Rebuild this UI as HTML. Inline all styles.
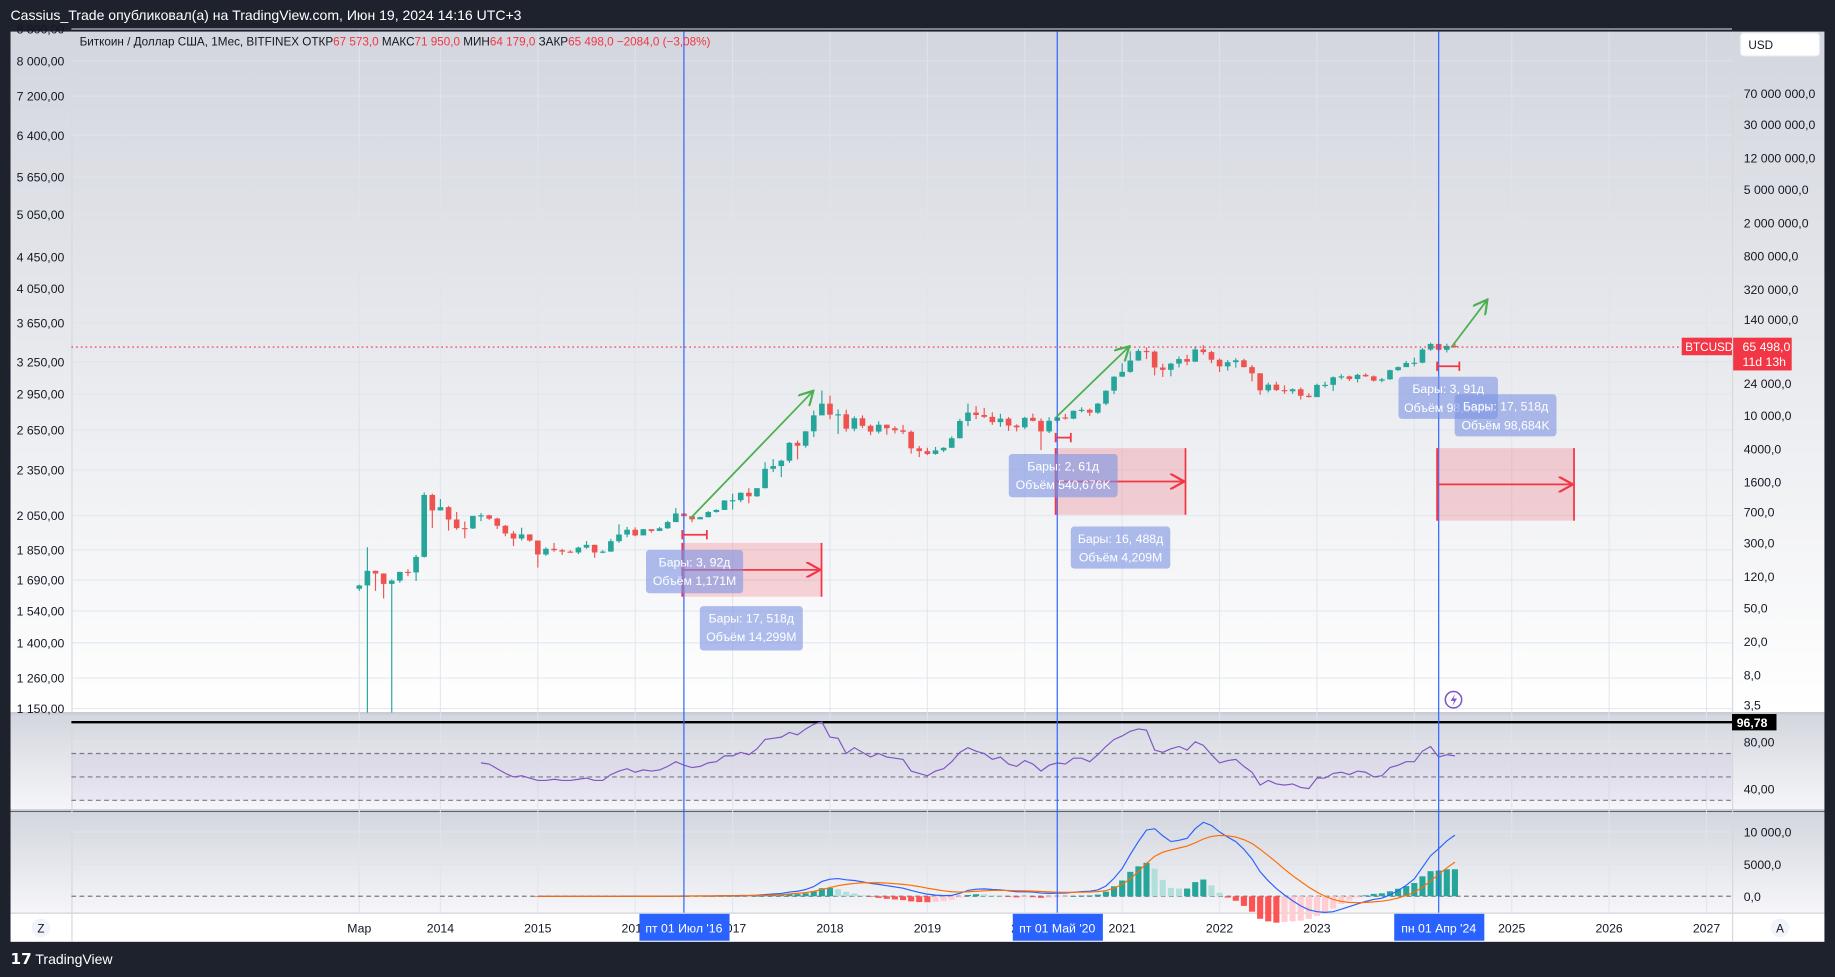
<!DOCTYPE html>
<html><head><meta charset="utf-8">
<style>
html,body{margin:0;padding:0;background:#1e222d;overflow:hidden;}
svg{display:block;font-family:"Liberation Sans","DejaVu Sans",sans-serif;}
</style></head>
<body>
<svg id="chart" width="1835" height="977" viewBox="0 0 1568 835" preserveAspectRatio="none" xmlns="http://www.w3.org/2000/svg">
<defs>
<linearGradient id="gMain" x1="0" y1="0" x2="0" y2="1"><stop offset="0" stop-color="#d3d6de"/><stop offset="1" stop-color="#ffffff"/></linearGradient>
<linearGradient id="gSub" x1="0" y1="0" x2="0" y2="1"><stop offset="0" stop-color="#d3d6de"/><stop offset="1" stop-color="#f6f6f9"/></linearGradient>
<marker id="ga" viewBox="0 0 10 10" refX="9" refY="5" markerWidth="9" markerHeight="9" orient="auto"><path d="M0,0 L9,5 L0,10" fill="none" stroke="#4caf50" stroke-width="1.4"/></marker>
<marker id="ra" viewBox="0 0 10 10" refX="9" refY="5" markerWidth="9" markerHeight="9" orient="auto"><path d="M0,0 L9,5 L0,10" fill="none" stroke="#f23645" stroke-width="1.4"/></marker>
</defs>
<rect x="0" y="0" width="1568" height="27" fill="#1e222d"/>
<text x="9" y="17" fill="#ffffff" font-size="12">Cassius_Trade опубликовал(а) на TradingView.com, Июн 19, 2024 14:16 UTC+3</text>
<rect x="9" y="27" width="1550" height="582" fill="url(#gMain)"/>
<rect x="9" y="610" width="1550" height="82" fill="url(#gSub)"/>
<rect x="9" y="694" width="1550" height="86" fill="url(#gSub)"/>
<rect x="9" y="780" width="1550" height="25" fill="#ffffff"/>
<line x1="9" y1="780.5" x2="1559" y2="780.5" stroke="#d6d8de"/>
<line x1="61.5" y1="27" x2="61.5" y2="805" stroke="#d6d8de"/>
<line x1="1480.5" y1="27" x2="1480.5" y2="805" stroke="#d6d8de"/>
<line x1="9" y1="609.5" x2="1559" y2="609.5" stroke="#c9ccd4" stroke-width="2"/>
<line x1="9" y1="692.5" x2="1559" y2="692.5" stroke="#c9ccd4" stroke-width="2"/>
<rect x="0" y="805" width="1568" height="30" fill="#1e222d"/>
<text x="9" y="824" fill="#ffffff" font-size="12"><tspan font-weight="bold" font-size="13">𝟭𝟳</tspan> TradingView</text>
<g id="grid"></g>
<g id="leftAxis"></g>
<g id="rightAxis"></g>
<g id="rsiG"></g>
<g id="macdG"></g>
<g id="candles"></g>
<g id="annot"></g>
<g id="timeAxis"></g>
<text x="68" y="39" font-size="10" fill="#131722">Биткоин / Доллар США, 1Мес, BITFINEX  ОТКР<tspan fill="#f23645">67 573,0</tspan>  МАКС<tspan fill="#f23645">71 950,0</tspan>  МИН<tspan fill="#f23645">64 179,0</tspan>  ЗАКР<tspan fill="#f23645">65 498,0  −2084,0 (−3,08%)</tspan></text>
<g><rect x="1487" y="28" width="68" height="20" rx="3" fill="#ffffff" stroke="#e0e3eb"/><text x="1494" y="42" font-size="10" fill="#131722">USD</text></g>
<rect x="1559" y="27" width="9" height="778" fill="#1e222d"/>
</svg>
<script>
const NS='http://www.w3.org/2000/svg';
function mk(tag,attrs,parent,txt){const e=document.createElementNS(NS,tag);for(const k in attrs)e.setAttribute(k,attrs[k]);if(txt!==undefined)e.textContent=txt;parent.appendChild(e);return e;}
const G=id=>document.getElementById(id);

// ---------- DATA ----------
const startMonth='2013-03';
const closes=[93,139,129,97,106,135,133,204,1120,732,
800,570,450,445,630,640,585,480,388,338,378,320,
218,255,245,236,230,263,284,230,236,314,377,430,
368,437,416,448,531,673,624,573,608,700,742,963,
970,1190,1080,1350,2300,2480,2875,4700,4340,6450,10000,13800,
10200,10300,6930,9240,7500,6400,7730,7020,6630,6370,4040,3740,
3460,3820,4100,5330,8570,10800,10100,9600,8300,9150,7560,7200,
9350,8600,6430,8620,9450,9140,11350,11650,10780,13800,19700,28990,
33100,45200,58800,57700,37300,35000,41500,47100,43800,61300,57000,46200,
38500,43200,45500,37700,31800,19900,23300,20050,19400,20500,17150,16550,
23100,23150,28500,29250,27200,30500,29250,26000,26950,34650,37700,42300,
42600,61200,71300,60700,67573,65498];
const firstOpen=85;
const highs=[95,266,140,130,110,135,145,215,1200,1160,
1000,830,700,540,630,680,650,600,490,415,455,380,
320,265,300,255,245,270,315,285,245,335,500,465,
460,440,425,465,550,780,680,620,615,720,755,970,
1160,1200,1350,1350,2760,3000,2950,4800,5000,6460,11400,19800,
17200,11800,11700,9740,10000,7770,8500,7760,7400,7700,6600,4300,
4100,4200,4160,5600,9100,13800,12900,12300,10900,10450,9550,7800,
9600,10500,9200,9500,10100,10430,11450,12480,12080,14120,19900,29300,
41950,58350,61800,64850,59500,41300,42400,50500,52900,67000,69000,59100,
47900,45800,48200,47400,40000,31900,24600,25200,22800,21000,21500,18400,
23900,25250,29200,31000,29800,31400,31800,30000,28000,35200,38400,44700,
48950,63900,73800,72800,71950,71950];
const lows=[80,2,80,65,2,100,120,105,200,450,
740,420,430,340,440,545,565,440,360,275,320,310,
152,210,235,215,228,220,255,199,225,234,300,350,
360,368,396,415,440,530,465,530,590,605,690,740,
750,920,890,1060,1340,2100,1830,2700,2970,4120,5500,10400,
9000,6000,6400,6450,7040,5800,6080,5870,6080,6000,3500,3180,
3350,3390,3640,4080,5300,7450,9000,9300,7700,7300,6520,6430,
6850,8500,3850,6150,8100,8900,9000,10850,9850,10400,13200,18000,
28800,32300,45000,47000,30000,28800,29300,37300,39600,43300,53300,42000,
32900,34300,37200,37400,25400,17600,18800,19550,18100,18100,15450,16300,
16500,21400,19600,26900,25800,24800,28800,25300,24900,26600,34000,40250,
38500,41900,59000,56500,56500,64179];
const rsiStart=15; // month index (Jun 2014)
const rsiValues=[62,61,57,53,50,51,49,
47,47,48,47,47,48,49,47,47,52,55,57,
54,56,55,56,59,63,60,58,59,62,63,68,
68,71,69,74,82,83,84,88,86,91,95,97,
84,83,70,75,71,67,70,67,66,65,55,53,
51,55,57,63,71,75,72,70,65,67,61,59,
64,61,55,60,62,61,66,66,63,69,76,82,
85,89,91,90,73,71,74,76,73,80,77,69,
62,64,65,59,54,43,47,44,43,44,41,40,
49,49,53,54,52,55,54,50,51,58,60,63,
63,72,76,67,69,68];
const macdStart=22; // Jan 2015
const macdValues=[-5,-8,-10,-12,-13,-13,-12,-12,-11,-8,-3,3,
5,9,12,16,22,35,42,45,48,55,62,80,
95,120,130,160,260,350,440,650,780,1050,1500,2300,
2650,2750,2550,2450,2250,2000,1850,1650,1450,1250,900,600,
330,180,100,140,450,900,1100,1150,1050,1000,850,700,
700,650,500,450,480,500,620,730,790,980,1600,2800,
4300,6500,8500,10300,10500,9400,8500,8700,9000,10500,11500,11000,
10000,9200,8500,7300,5800,3800,2400,1200,200,-700,-1500,-2100,
-2400,-2500,-2400,-2000,-1600,-1200,-800,-500,-300,200,900,1700,
2700,4500,6300,7400,8600,9500];
const signalValues=[-3,-5,-6,-8,-9,-10,-11,-11,-11,-10,-8,-5,
-2,1,4,7,11,18,25,32,38,44,51,60,
72,86,100,117,150,200,260,350,450,580,760,1050,
1350,1650,1850,2000,2100,2100,2100,2050,1950,1850,1700,1500,
1250,1050,850,700,650,700,780,850,900,920,910,870,
840,800,740,680,640,610,610,630,660,720,880,1250,
1850,2700,3850,5100,6200,6850,7200,7500,7800,8300,8900,9300,
9450,9400,9200,8800,8200,7300,6300,5300,4200,3200,2300,1400,
650,0,-500,-800,-950,-1000,-950,-870,-760,-570,-270,120,
640,1400,2400,3400,4400,5300];
const rightTicks=[70000000,30000000,12000000,5000000,2000000,800000,320000,140000,24000,10000,4000,1600,700,300,120,50,20,8,3.5];
const rightTickLabels=['70 000 000,0','30 000 000,0','12 000 000,0','5 000 000,0','2 000 000,0','800 000,0','320 000,0','140 000,0','24 000,0','10 000,0','4000,0','1600,0','700,0','300,0','120,0','50,0','20,0','8,0','3,5'];
const leftTicks=[8800,8000,7200,6400,5650,5050,4450,4050,3650,3250,2950,2650,2350,2050,1850,1690,1540,1400,1260,1150];
const leftTickLabels=['8 800,00','8 000,00','7 200,00','6 400,00','5 650,00','5 050,00','4 450,00','4 050,00','3 650,00','3 250,00','2 950,00','2 650,00','2 350,00','2 050,00','1 850,00','1 690,00','1 540,00','1 400,00','1 260,00','1 150,00'];
const yearLabels=['2014','2015','2016','2017','2018','2019','2020','2021','2022','2023','2024','2025','2026','2027'];
const yearMonthIdx=[10,22,34,46,58,70,82,94,106,118,130,142,154,166];
const rsiTicks=[80,40];
const macdTicks=[10000,5000,0];
const macdTickLabels=['10 000,0','5000,0','0,0'];
const lastPrice=65498;

// ---------- SCALES ----------
const xM=i=>307+i*6.935;
const yP=p=>355-31.07*Math.log(p/10000);
const yL=p=>52+285.4*Math.log(8000/p);
const yR=v=>714-v;
const yMd=v=>766-v*0.0055;

// grid
const grid=G('grid');
yearMonthIdx.forEach((m,i)=>{const l=mk('line',{x1:xM(m),x2:xM(m),y1:27,y2:780,stroke:'#e0e3eb','stroke-opacity':0.8},grid);

});
mk('line',{x1:xM(0),x2:xM(0),y1:27,y2:780,stroke:'#e0e3eb'},grid);
leftTicks.forEach(p=>{const l=mk('line',{x1:61,x2:1480,y1:yL(p),y2:yL(p),stroke:'#e0e3eb','stroke-opacity':0.8},grid);

});

// left axis
const la=G('leftAxis');
leftTicks.forEach((p,i)=>{const t=mk('text',{x:55,y:yL(p)+4,'text-anchor':'end','font-size':10.5,fill:'#131722'},la,leftTickLabels[i]);

});
// right axis
const ra=G('rightAxis');
rightTicks.forEach((p,i)=>{const t=mk('text',{x:1490,y:yP(p)+4,'font-size':10.5,fill:'#131722'},ra,rightTickLabels[i]);

});

// candles
const cg=G('candles');
closes.forEach((c,i)=>{const o=i===0?firstOpen:closes[i-1];const up=c>=o;const col=up?'#26a69a':'#ef5350';const x=xM(i);
const w=mk('line',{x1:x,x2:x,y1:yP(highs[i]),y2:Math.min(yP(lows[i]),609),stroke:col,'stroke-width':1},cg);


const yt=yP(Math.max(o,c)),yb=yP(Math.min(o,c));
const b=mk('rect',{x:x-2.4,y:yt,width:4.8,height:Math.max(yb-yt,1),fill:col},cg);

});

// price line
const an=G('annot');
const pl=mk('line',{x1:61,x2:1437,y1:yP(lastPrice),y2:yP(lastPrice),stroke:'#f23645','stroke-dasharray':'1.5,2.5'},an);


const py=yP(lastPrice);
mk('rect',{x:1437,y:py-8,width:43,height:15,fill:'#f23645'},an);
const bt=mk('text',{x:1440,y:py+3.5,'font-size':10,fill:'#fff'},an,'BTCUSD');


mk('rect',{x:1481,y:py-8,width:50,height:28,fill:'#f23645'},an);
const pt=mk('text',{x:1489,y:py+3.5,'font-size':10.5,fill:'#fff'},an,'65 498,0');


mk('text',{x:1489,y:py+16,'font-size':10.5,fill:'#fff'},an,'11d 13h');

// vertical cursor lines
[[40,'пт 01 Июл \'16'],[86,'пт 01 Май \'20'],[133,'пн 01 Апр \'24']].forEach(([m,lab])=>{const x=xM(m);
const l=mk('line',{x1:x,x2:x,y1:27,y2:780,stroke:'#2962ff','stroke-width':1},an);


mk('rect',{x:x-38,y:781,width:77,height:23,fill:'#2962ff'},G('timeAxis'));
const t=mk('text',{x:x,y:797,'text-anchor':'middle','font-size':10.5,fill:'#fff'},G('timeAxis'),lab);

});

// green arrows
[[590,443,695,334],[902,357,965,296],[1240,297,1271,256]].forEach(a=>{const l=mk('line',{x1:a[0],y1:a[1],x2:a[2],y2:a[3],stroke:'#4caf50','stroke-width':1.5,'marker-end':'url(#ga)'},an);

});

// date ranges (red)
[[583,464,702,510,457,604],[902,383,1013,440,374,915],[1228,383,1345,445,313,1247]].forEach(d=>{
const r=mk('rect',{x:d[0],y:d[1],width:d[2]-d[0],height:d[3]-d[1],fill:'#f23645','fill-opacity':0.2},an);


mk('line',{x1:d[0],x2:d[0],y1:d[1],y2:d[3],stroke:'#f23645','stroke-width':1.5},an);
mk('line',{x1:d[2],x2:d[2],y1:d[1],y2:d[3],stroke:'#f23645','stroke-width':1.5},an);
mk('line',{x1:d[0],x2:d[2]-1,y1:(d[1]+d[3])/2,y2:(d[1]+d[3])/2,stroke:'#f23645','stroke-width':1.5,'marker-end':'url(#ra)'},an);
mk('line',{x1:d[0],x2:d[5],y1:d[4],y2:d[4],stroke:'#f23645','stroke-width':1.5},an);
mk('line',{x1:d[5],x2:d[5],y1:d[4]-4,y2:d[4]+4,stroke:'#f23645','stroke-width':1.5},an);
mk('line',{x1:d[0],x2:d[0],y1:d[4]-4,y2:d[4]+4,stroke:'#f23645','stroke-width':1.5},an);});

// info labels
[[552,470,83,37,'Бары: 3, 92д','Объём 1,171M'],[598,518,88,38,'Бары: 17, 518д','Объём 14,299M'],[862,388,93,37,'Бары: 2, 61д','Объём 540,676K'],[915,450,85,36,'Бары: 16, 488д','Объём 4,209M'],[1195,322,85,36,'Бары: 3, 91д','Объём 98,684K'],[1243,337,87,36,'Бары: 17, 518д','Объём 98,684K']].forEach(b=>{
const r=mk('rect',{x:b[0],y:b[1],width:b[2],height:b[3],rx:3,fill:'#7b93e3','fill-opacity':0.6},an);


mk('text',{x:b[0]+b[2]/2,y:b[1]+14,'text-anchor':'middle','font-size':10.5,fill:'#fff'},an,b[4]);
mk('text',{x:b[0]+b[2]/2,y:b[1]+30,'text-anchor':'middle','font-size':10.5,fill:'#fff'},an,b[5]);});

// lightning icon
const li=mk('circle',{cx:1242,cy:598,r:7,fill:'none',stroke:'#7e57c2','stroke-width':1.3},an);


mk('path',{d:'M1243.5,593 L1239.5,599 L1242.5,599 L1241,603.5 L1245,597 L1242,597 Z',fill:'#7e57c2'},an);

// RSI
const rg=G('rsiG');
mk('rect',{x:61,y:yR(70),width:1419,height:yR(30)-yR(70),fill:'#7e57c2','fill-opacity':0.08},rg);
rsiTicks.forEach(v=>{mk('line',{x1:61,x2:1480,y1:yR(v),y2:yR(v),stroke:'#e0e3eb'},rg);
const t=mk('text',{x:1490,y:yR(v)+4,'font-size':10.5,fill:'#131722'},rg,v+',00');

});
[70,50,30].forEach(v=>{const l=mk('line',{x1:61,x2:1480,y1:yR(v),y2:yR(v),stroke:'#787b86','stroke-dasharray':'4,3'},rg);

});
const hl=mk('line',{x1:61,x2:1480,y1:yR(96.78),y2:yR(96.78),stroke:'#000','stroke-width':2},rg);


mk('rect',{x:1480,y:yR(96.78)-7,width:38,height:14,fill:'#000'},rg);
mk('text',{x:1484,y:yR(96.78)+4,'font-size':10.5,fill:'#fff','font-weight':'bold'},rg,'96,78');
const rp=mk('polyline',{points:rsiValues.map((v,i)=>xM(rsiStart+i)+','+yR(v)).join(' '),fill:'none',stroke:'#7e57c2','stroke-width':1},rg);



// MACD
const mg=G('macdG');
macdTicks.forEach((v,i)=>{if(v!==0)mk('line',{x1:61,x2:1480,y1:yMd(v),y2:yMd(v),stroke:'#e0e3eb'},mg);
const t=mk('text',{x:1490,y:yMd(v)+4,'font-size':10.5,fill:'#131722'},mg,macdTickLabels[i]);

});
mk('line',{x1:61,x2:1480,y1:yMd(0),y2:yMd(0),stroke:'#787b86','stroke-dasharray':'4,3'},mg);
let prevH=0;
macdValues.forEach((m,i)=>{const h=m-signalValues[i];const col=h>=0?(h>=prevH?'#26a69a':'#b2dfdb'):(h<prevH?'#ff5252':'#ffcdd2');prevH=h;
const y0=yMd(0),y1=yMd(h);
const b=mk('rect',{x:xM(macdStart+i)-2.6,y:Math.min(y0,y1),width:5.2,height:Math.max(Math.abs(y1-y0),0.5),fill:col},mg);

});
const ml=mk('polyline',{points:macdValues.map((v,i)=>xM(macdStart+i)+','+yMd(v)).join(' '),fill:'none',stroke:'#2962ff','stroke-width':1},mg);


const sl=mk('polyline',{points:signalValues.map((v,i)=>xM(macdStart+i)+','+yMd(v)).join(' '),fill:'none',stroke:'#ff6d00','stroke-width':1},mg);



// time axis
const ta=G('timeAxis');
const mt=mk('text',{x:xM(0),y:797,'text-anchor':'middle','font-size':10.5,fill:'#131722'},ta,'Мар');


yearLabels.forEach((l,i)=>{const t=mk('text',{x:xM(yearMonthIdx[i]),y:797,'text-anchor':'middle','font-size':10.5,fill:'#131722'},ta,l);

});
Array.from(ta.querySelectorAll('rect')).forEach(r=>{ta.appendChild(r);});
Array.from(ta.querySelectorAll('text')).filter(t=>t.getAttribute('fill')==='#fff').forEach(t=>ta.appendChild(t));
const z=mk('g',{},ta);


mk('circle',{cx:35,cy:793,r:8,fill:'#f0f3fa'},z);mk('text',{x:35,y:797,'text-anchor':'middle','font-size':10,fill:'#131722'},z,'Z');
const a=mk('g',{},ta);


mk('circle',{cx:1521,cy:793,r:8,fill:'#f0f3fa'},a);mk('text',{x:1521,y:797,'text-anchor':'middle','font-size':10,fill:'#131722'},a,'A');
</script>
</body></html>
